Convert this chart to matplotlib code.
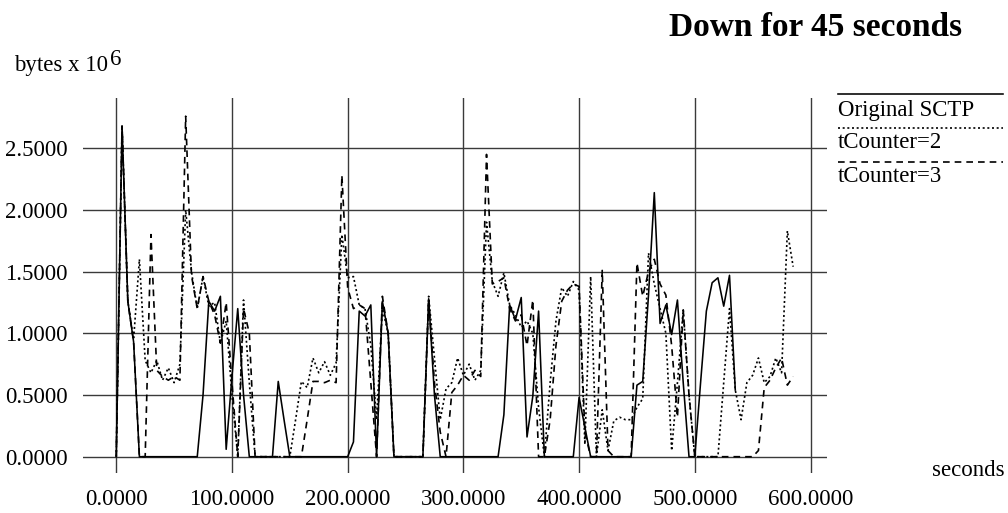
import numpy as np
import matplotlib
matplotlib.use("Agg")
import matplotlib.pyplot as plt
from matplotlib.lines import Line2D

plt.rcParams['font.family'] = ['Liberation Serif', 'DejaVu Serif']

# ---------------- data (bytes x 10^6, sampled every 5 s) ----------------
original_sctp = [
    0, 2.68, 1.26, 0.93, 0, 0, 0, 0, 0, 0,            # 0-45
    0, 0, 0, 0, 0, 0.50, 1.26, 1.18, 1.30, 0.06,       # 50-95
    0.65, 1.20, 0.50, 0, 0, 0, 0, 0, 0.61, 0.30,       # 100-145
    0, 0, 0, 0, 0, 0, 0, 0, 0, 0,                      # 150-195
    0, 0.12, 1.18, 1.14, 1.23, 0, 1.26, 1.00, 0, 0,    # 200-245
    0, 0, 0, 0, 1.28, 0.50, 0, 0, 0, 0,                # 250-295
    0, 0, 0, 0, 0, 0, 0, 0.34, 1.23, 1.11,             # 300-345
    1.29, 0.16, 0.49, 1.18, 0, 0, 0, 0, 0, 0,          # 350-395
    0.48, 0.24, 0, 0, 0, 0, 0, 0, 0, 0,                # 400-445
    0.58, 0.61, 1.31, 2.14, 1.08, 1.23, 0.99, 1.27, 0.60, 0,   # 450-495
    0, 0.60, 1.18, 1.41, 1.45, 1.22, 1.47, 0.54,       # 500-535
]

tcounter_2 = [
    0, 2.68, 1.26, 0.95, 1.60, 0.78, 0.68, 0.78, 0.62, 0.72,     # 0-45
    0.60, 0.75, 2.00, 1.50, 1.20, 1.46, 1.22, 1.25, 0.92, 1.10,  # 50-95
    0.50, 0, 1.27, 0.60, 0, 0, 0, 0, 0, 0,                       # 100-145
    0, 0.30, 0.61, 0.56, 0.80, 0.68, 0.77, 0.66, 0.76, 1.80,     # 150-195
    1.45, 1.46, 1.23, 1.20, 0.90, 0.30, 1.20, 1.00, 0, 0,        # 200-245
    0, 0, 0, 0, 1.30, 0.80, 0.30, 0.55, 0.60, 0.80,              # 250-295
    0.66, 0.75, 0.62, 0.70, 1.90, 1.42, 1.30, 1.49, 1.23, 1.15,  # 300-345
    1.05, 1.10, 1.00, 0.40, 0, 0.60, 1.10, 1.37, 1.30, 1.42,     # 350-395
    1.35, 0.10, 1.46, 0, 0.38, 0.05, 0.29, 0.32, 0.30, 0.30,     # 400-445
    0.40, 0.47, 1.65, 1.40, 1.20, 1.00, 0.05, 0.60, 1.19, 0.50,  # 450-495
    0, 0, 0, 0, 0, 0.60, 1.20, 0.54, 0.30, 0.60,                 # 500-545
    0.66, 0.80, 0.60, 0.65, 0.80, 0.68, 1.83, 1.54,              # 550-585
]

tcounter_3 = [
    0, 2.68, 1.26, 0.93, 0, 0, 1.80, 0.70, 0.65, 0.62,           # 0-45
    0.65, 0.62, 2.76, 1.47, 1.20, 1.46, 1.26, 1.15, 0.92, 1.25,  # 50-95
    0.60, 0, 1.20, 1.00, 0, 0, 0, 0, 0, 0,                       # 100-145
    0, 0, 0, 0.30, 0.61, 0.61, 0.60, 0.62, 0.60, 2.28,           # 150-195
    1.37, 1.20, 1.23, 1.20, 0.60, 0, 1.30, 1.00, 0, 0,           # 200-245
    0, 0, 0, 0, 1.28, 0.60, 0.20, 0, 0.52, 0.58,                 # 250-295
    0.66, 0.62, 0.70, 0.65, 2.45, 1.40, 1.42, 1.45, 1.20, 1.10,  # 300-345
    1.15, 0.90, 1.27, 0, 0, 0.30, 0.90, 1.26, 1.35, 1.40,        # 350-395
    1.38, 0.20, 0, 0, 1.51, 0.05, 0, 0, 0, 0,                    # 400-445
    1.57, 1.30, 1.50, 1.60, 1.40, 1.31, 0.90, 0.32, 1.19, 0.50,  # 450-495
    0, 0, 0, 0, 0, 0, 0, 0, 0, 0,                                # 500-545
    0, 0.05, 0.56, 0.62, 0.72, 0.80, 0.58, 0.65,                 # 550-585
]

sample_step_s = 5
x_ticks = [0, 100, 200, 300, 400, 500, 600]
y_ticks = [0.0, 0.5, 1.0, 1.5, 2.0, 2.5]
series_labels = ["Original SCTP", "tCounter=2", "tCounter=3"]
title = "Down for 45 seconds"

# ---------------- figure ----------------
W, H = 1008, 513
fig = plt.figure(figsize=(W / 100, H / 100), dpi=100)
ax = fig.add_axes([82.7 / W, 1 - 473.3 / H, 744 / W, (473.3 - 98) / H])

styles = [
    dict(color='black', lw=1.15, ls='-'),
    dict(color='black', lw=1.2, ls=(0, (1.2, 1.6))),
    dict(color='black', lw=1.2, ls=(0, (4.0, 3.0))),
]
for vals, st in zip([original_sctp, tcounter_2, tcounter_3], styles):
    t = np.arange(len(vals)) * sample_step_s
    ax.plot(t, vals, **st, zorder=3)

ax.set_xlim(-29, 614)
ax.set_ylim(-0.1345, 2.907)
ax.set_xticks(x_ticks)
ax.set_yticks(y_ticks)
ax.set_xticklabels([f"{v:.4f}" for v in x_ticks])
ax.set_yticklabels([f"{v:.4f}" for v in y_ticks])
ax.tick_params(length=0, labelsize=16.5, pad=11)
ax.tick_params(axis='x', pad=11)
for s in ax.spines.values():
    s.set_visible(False)
ax.grid(True, color='#3a3a3a', lw=1.0)
ax.set_axisbelow(True)

# title and axis labels
fig.text(962 / W, 1 - 36 / H, title, ha='right', va='baseline',
         fontsize=24, fontweight='bold')
fig.text(14 / W, 1 - 71 / H, "bytes x 10", ha='left', va='baseline', fontsize=16.5)
fig.text(110 / W, 1 - 65 / H, "6", ha='left', va='baseline', fontsize=16.5)
fig.text(1005 / W, 1 - 476 / H, "seconds", ha='right', va='baseline', fontsize=16.5)

# legend (line above each label)
line_y = [94.3, 127.7, 161.7]
text_y = [116, 148.3, 181.7]
for lab, st, ly, ty in zip(series_labels, styles, line_y, text_y):
    fig.add_artist(Line2D([837.7 / W, 1003 / W], [1 - ly / H, 1 - ly / H],
                          transform=fig.transFigure, **st))
    fig.text(838 / W, 1 - ty / H, lab, ha='left', va='baseline', fontsize=16.5)

fig.savefig("out.png", dpi=100)
